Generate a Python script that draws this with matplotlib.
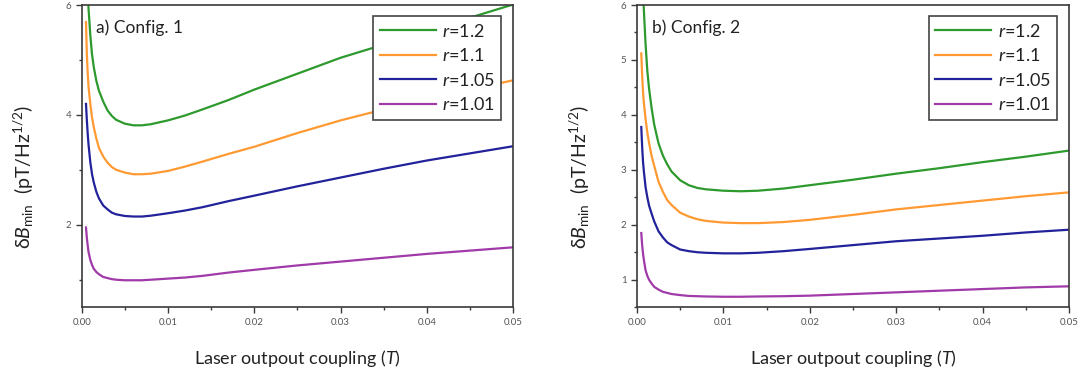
import matplotlib
matplotlib.use("Agg")
import matplotlib.pyplot as plt
from matplotlib.ticker import MultipleLocator

plt.rcParams["font.family"] = ["Lato", "DejaVu Sans"]
plt.rcParams["mathtext.fontset"] = "custom"
plt.rcParams["mathtext.rm"] = "Lato"
plt.rcParams["mathtext.it"] = "Lato:italic"

# laser output coupling T (same grid for every curve)
T = [0.0005, 0.0006, 0.0007, 0.0008, 0.001, 0.0012, 0.0014, 0.0017, 0.002, 0.0025,
     0.003, 0.0035, 0.004, 0.005, 0.006, 0.007, 0.008, 0.01, 0.012, 0.014,
     0.017, 0.02, 0.025, 0.03, 0.035, 0.04, 0.045, 0.05]

r_labels = ["1.2", "1.1", "1.05", "1.01"]
colors = ["#2e9a2e", "#ff9a33", "#22229a", "#a03aa8"]

# a) Config. 1  -- dB_min in pT/Hz^1/2
a_r120 = [7.40, 6.70, 6.25, 5.92, 5.45, 5.10, 4.87, 4.62, 4.44, 4.24,
          4.08, 3.98, 3.91, 3.84, 3.81, 3.81, 3.83, 3.90, 3.99, 4.10,
          4.27, 4.46, 4.75, 5.04, 5.28, 5.52, 5.77, 6.01]
a_r110 = [5.69, 5.10, 4.75, 4.50, 4.20, 3.95, 3.78, 3.57, 3.40, 3.24,
          3.13, 3.05, 3.00, 2.95, 2.92, 2.92, 2.93, 2.98, 3.06, 3.15,
          3.29, 3.42, 3.67, 3.90, 4.10, 4.29, 4.46, 4.63]
a_r105 = [4.20, 3.90, 3.65, 3.45, 3.14, 2.92, 2.77, 2.60, 2.48, 2.35,
          2.28, 2.22, 2.19, 2.16, 2.15, 2.15, 2.165, 2.21, 2.26, 2.32,
          2.43, 2.53, 2.70, 2.86, 3.02, 3.17, 3.30, 3.43]
a_r101 = [1.95, 1.76, 1.62, 1.50, 1.36, 1.27, 1.20, 1.14, 1.10, 1.05,
          1.03, 1.01, 1.00, 0.99, 0.99, 0.99, 1.00, 1.02, 1.04, 1.07,
          1.13, 1.18, 1.26, 1.33, 1.40, 1.47, 1.53, 1.59]

# b) Config. 2
b_r120 = [7.60, 7.00, 6.30, 5.90, 5.28, 4.80, 4.48, 4.12, 3.82, 3.48,
          3.26, 3.10, 2.97, 2.81, 2.72, 2.67, 2.645, 2.62, 2.61, 2.62,
          2.66, 2.72, 2.82, 2.93, 3.03, 3.14, 3.24, 3.35]
b_r110 = [5.12, 4.72, 4.42, 4.22, 3.92, 3.68, 3.49, 3.25, 3.07, 2.78,
          2.60, 2.45, 2.36, 2.22, 2.15, 2.10, 2.07, 2.04, 2.03, 2.03,
          2.05, 2.09, 2.18, 2.28, 2.36, 2.44, 2.52, 2.59]
b_r105 = [3.78, 3.42, 3.15, 2.97, 2.68, 2.50, 2.35, 2.20, 2.06, 1.88,
          1.77, 1.68, 1.63, 1.55, 1.52, 1.50, 1.49, 1.48, 1.48, 1.49,
          1.52, 1.56, 1.63, 1.70, 1.75, 1.80, 1.86, 1.91]
b_r101 = [1.85, 1.63, 1.48, 1.36, 1.17, 1.07, 1.00, 0.93, 0.87, 0.82,
          0.78, 0.76, 0.74, 0.72, 0.705, 0.70, 0.695, 0.69, 0.69, 0.695,
          0.70, 0.71, 0.74, 0.77, 0.80, 0.83, 0.86, 0.88]

panels = [
    ("a) Config. 1", [a_r120, a_r110, a_r105, a_r101], 2, 1),
    ("b) Config. 2", [b_r120, b_r110, b_r105, b_r101], 1, 0.5),
]

fig = plt.figure(figsize=(10.92, 3.71), dpi=100)
boxes = [[0.0748, 0.172, 0.3952, 0.8145], [0.5833, 0.172, 0.3956, 0.8145]]
spine_c = "#3a3a3a"

for box, (title, series, major, minor) in zip(boxes, panels):
    ax = fig.add_axes(box)
    for vals, lab, c in zip(series, r_labels, colors):
        ax.plot(T, vals, color=c, lw=1.6, label=r"$\mathit{r}$=" + lab)

    ax.set_xlim(0, 0.05)
    ax.set_ylim(0.5, 6)
    ax.xaxis.set_major_locator(MultipleLocator(0.01))
    ax.xaxis.set_minor_locator(MultipleLocator(0.005))
    ax.yaxis.set_major_locator(MultipleLocator(major))
    ax.yaxis.set_minor_locator(MultipleLocator(minor))
    ax.xaxis.set_major_formatter(plt.FormatStrFormatter("%.2f"))
    ax.yaxis.set_major_formatter(plt.FormatStrFormatter("%d"))
    ax.tick_params(which="both", direction="out", color=spine_c, width=1.0,
                   labelsize=7, labelcolor="#555555")
    ax.tick_params(which="major", length=4)
    ax.tick_params(which="minor", length=2.5)
    for s in ax.spines.values():
        s.set_color(spine_c)
        s.set_linewidth(1.2)

    ax.set_xlabel(r"Laser outpout coupling ($\mathit{T}$)", fontsize=13, color="#222222")
    ax.xaxis.set_label_coords(0.5, -0.135)
    ax.set_ylabel("δ" + r"$\mathit{B}_{\mathrm{min}}$  (pT/Hz$^{1/2}$)",
                  fontsize=14, color="#222222")
    ax.yaxis.set_label_coords(-0.105, 0.43)

    ax.text(0.034, 0.924, title, transform=ax.transAxes, fontsize=12.5,
            va="center", ha="left", color="#222222")

    leg = ax.legend(loc="upper right", bbox_to_anchor=(0.972, 0.963),
                    borderaxespad=0, fontsize=13, handlelength=3.1,
                    handletextpad=0.35, labelspacing=0.42, borderpad=0.35,
                    fancybox=False, framealpha=1)
    leg.get_frame().set_edgecolor("#444444")
    leg.get_frame().set_linewidth(1.2)
    for t in leg.get_texts():
        t.set_color("#222222")

fig.savefig("out.png", dpi=100)
